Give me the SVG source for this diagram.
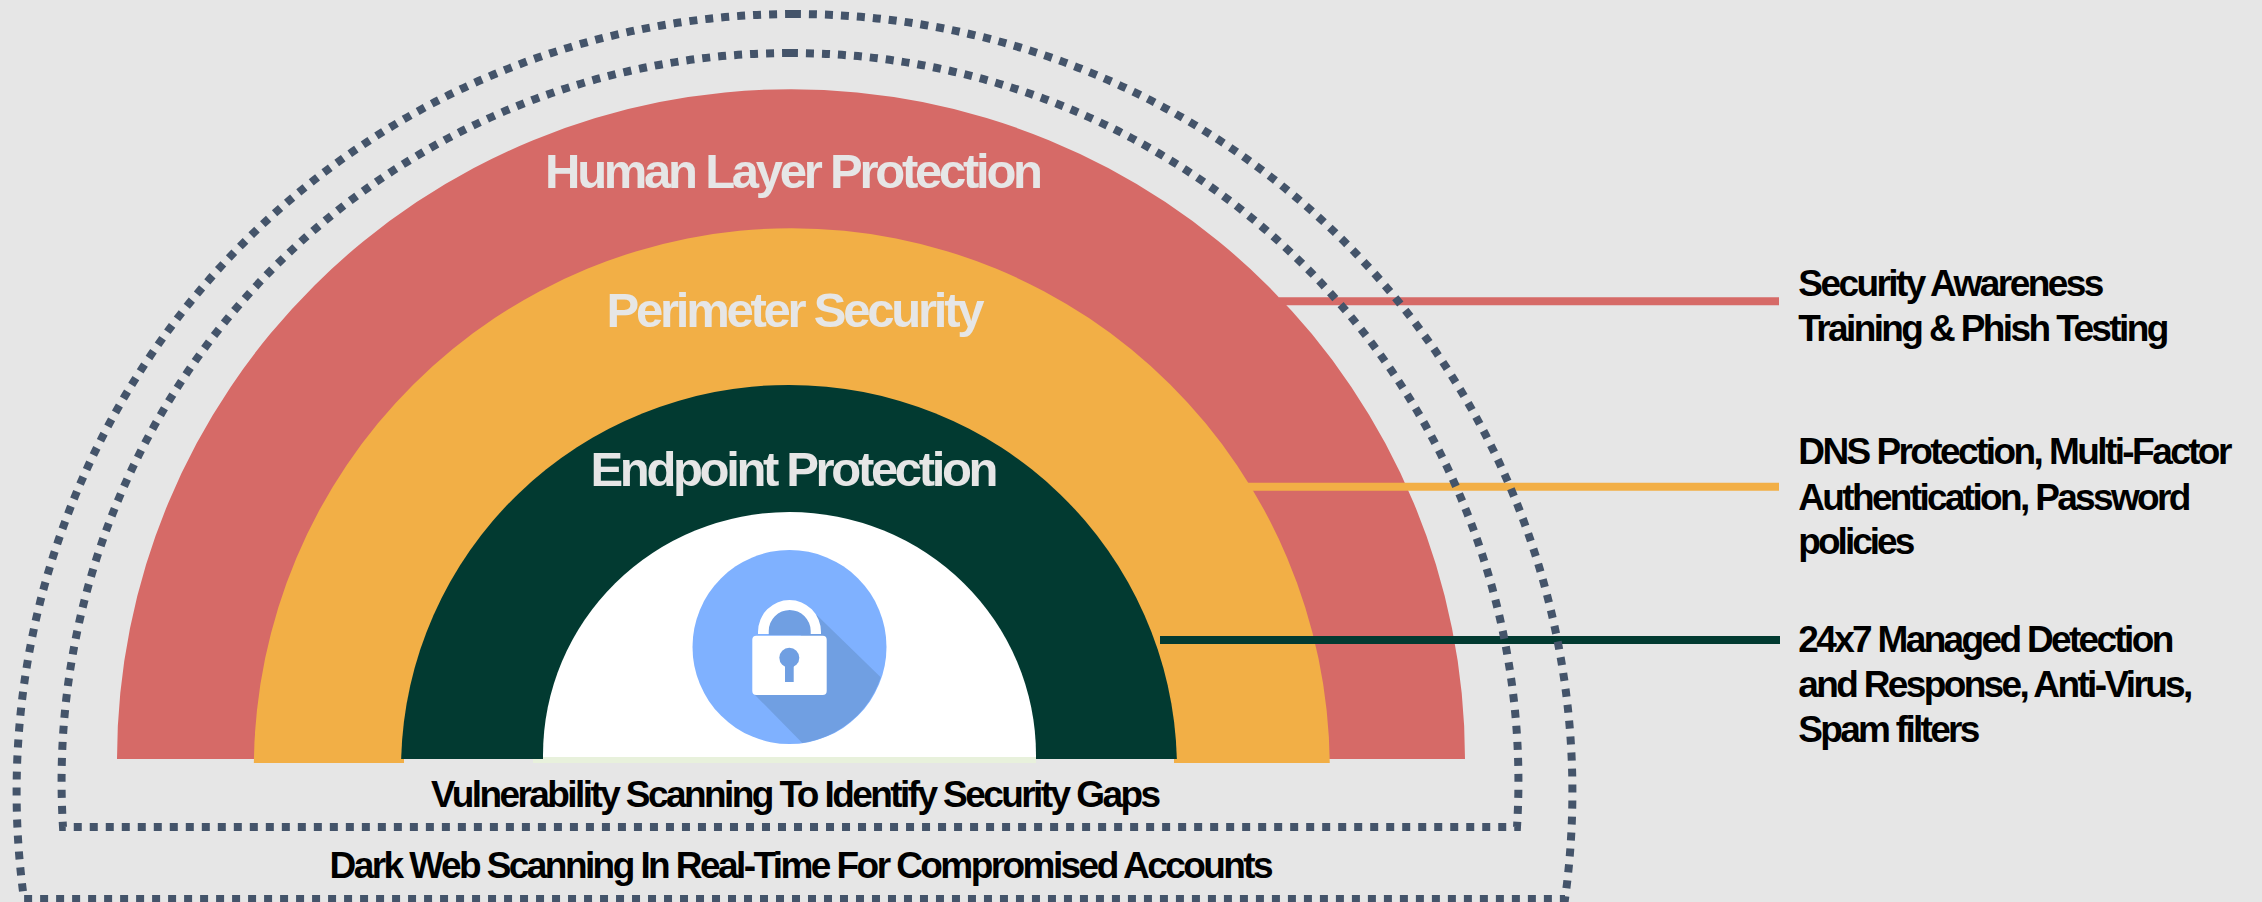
<svg xmlns="http://www.w3.org/2000/svg" width="2262" height="902" viewBox="0 0 2262 902">
<style>
text{font-family:"Liberation Sans",Arial,sans-serif;font-weight:700}
.t{font-size:49px;fill:#e6e6e6}
.l{font-size:37px;fill:#000}
.d{fill:none;stroke:#44546a;stroke-width:8;stroke-dasharray:1 1}
.c{fill:none;stroke-width:8}
</style>
<rect width="2262" height="902" fill="#e6e6e6"/>
<g id="layer-human"><path fill="#d66a67" d="M117,759A674,670 0 0 1 1465,759Z"/></g>
<g id="layer-perimeter"><path fill="#f2af46" d="M253.83,763A538,540.5 0 0 1 1329.77,763H1174V759H404V763Z"/></g>
<g id="layer-endpoint"><path fill="#023a31" d="M401.13,759A388,384 0 0 1 1176.87,759Z"/></g>
<g id="core"><path fill="#fff" d="M543,757V755A246.5,243 0 0 1 1036,755V757Z"/>
<path fill="#e8f1dc" d="M533,759H543V757H1036V763H533Z"/></g>
<g id="lock">
<circle cx="789.5" cy="647" r="97" fill="#7fb1ff"/>
<path fill="#709fe2" d="M816.7,615L880.7,677.3A97,97 0 0 1 802.3,743L755,695Z"/>
<path fill="#709fe2" d="M768.7,635V630A21,20 0 0 1 810.7,630V635Z"/>
<path fill="#fff" d="M758,634V632A31.5,32 0 0 1 821,632V634H810.7V631A21,21 0 0 0 768.7,631V634Z"/>
<rect x="752.3" y="635.7" width="74.4" height="59.3" rx="4" fill="#fff"/>
<circle cx="789.3" cy="657.7" r="10" fill="#709fe2"/>
<rect x="785" y="660" width="8.7" height="22" fill="#709fe2"/>
</g>
<g id="connectors">
<path class="c" stroke="#d66a67" d="M1279,301.3H1779"/>
<path class="c" stroke="#f2af46" d="M1247,486.7H1779"/>
<path class="c" stroke="#023a31" d="M1160,640H1780"/>
</g>
<g id="zone-vulnerability">
<path class="d" pathLength="479" d="M790,53A728.5,728.5 0 0 1 1517,827H63A728.5,728.5 0 0 1 790,53"/>
<text class="l" x="431" y="807" textLength="730">Vulnerability Scanning To Identify Security Gaps</text>
</g>
<g id="zone-darkweb">
<path class="d" pathLength="525" d="M793,14A778,778 0 0 1 1565,899H24A778,778 0 0 1 793,14"/>
<text class="l" x="329.6" y="877.7" textLength="944">Dark Web Scanning In Real-Time For Compromised Accounts</text>
</g>
<g id="title-human"><text class="t" x="545" y="188" textLength="498">Human Layer Protection</text></g>
<g id="title-perimeter"><text class="t" x="606.5" y="327" textLength="378">Perimeter Security</text></g>
<g id="title-endpoint"><text class="t" x="590.5" y="486" textLength="408">Endpoint Protection</text></g>
<g id="label-human">
<text class="l" x="1798.3" y="296" textLength="306">Security Awareness</text>
<text class="l" x="1798.3" y="341" textLength="371">Training &amp; Phish Testing</text>
</g>
<g id="label-perimeter">
<text class="l" x="1798.3" y="464" textLength="434">DNS Protection, Multi-Factor</text>
<text class="l" x="1798.3" y="510" textLength="393">Authentication, Password</text>
<text class="l" x="1798.3" y="553.5" textLength="117">policies</text>
</g>
<g id="label-endpoint">
<text class="l" x="1798.3" y="652.3" textLength="376">24x7 Managed Detection</text>
<text class="l" x="1798.3" y="696.7" textLength="395">and Response, Anti-Virus,</text>
<text class="l" x="1798.3" y="741.7" textLength="182">Spam filters</text>
</g>
</svg>
